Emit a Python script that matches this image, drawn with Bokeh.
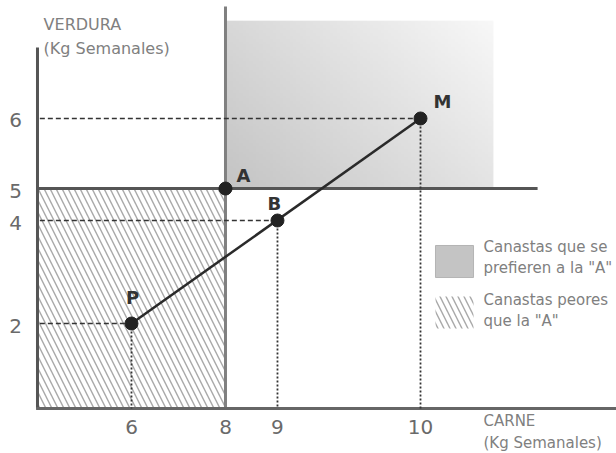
import numpy as np
from bokeh.plotting import figure
from bokeh.models import Range1d
from bokeh.core.properties import value
from bokeh.embed import file_html
from bokeh.resources import INLINE

# ---------------- data ----------------
CARNE_TICKS = [6, 8, 9, 10]
VERDURA_TICKS = [2, 4, 5, 6]
POINT_NAMES = ["P", "A", "B", "M"]
POINT_CARNE = [6, 8, 9, 10]
POINT_VERDURA = [2, 5, 4, 6]
PATH = ["P", "M"]            # straight path P -> B -> M
REF = "A"                    # reference basket
X_TITLE = "CARNE\n(Kg Semanales)"
Y_TITLE = "VERDURA\n(Kg Semanales)"
LEGEND_LABELS = ['Canastas que se\nprefieren a la "A"', 'Canastas peores\nque la "A"']

# ---------------- layout (schematic, not to scale) ----------------
X_SLOTS = [6.0, 8.0, 9.106, 12.149]
Y_SLOTS = [2.0, 4.0, 4.621, 5.981]
AXIS_X, AXIS_Y = 4.0, 0.35
X_AXIS_END, Y_AXIS_END = 16.4, 7.36
GRAY_RIGHT, GRAY_TOP = 13.70, 7.88
HLINE_END = 14.64
VLINE_TOP = 8.155
LABEL_DX = {"P": 1, "A": 18, "B": -3, "M": 22}
LABEL_DY = {"P": -26, "A": -13, "B": -17, "M": -17}

FONT = value("DejaVu Sans")


def sx(v):
    return np.interp(v, CARNE_TICKS, X_SLOTS)


def sy(v):
    return np.interp(v, VERDURA_TICKS, Y_SLOTS)


pts = {n: (sx(c), sy(v)) for n, c, v in zip(POINT_NAMES, POINT_CARNE, POINT_VERDURA)}
ax, ay = pts[REF]

p = figure(width=616, height=453, x_range=Range1d(3.213, 16.319), y_range=Range1d(-0.524, 8.272),
           x_axis_type=None, y_axis_type=None, toolbar_location=None, output_backend="svg",
           min_border=0, outline_line_color=None, background_fill_color="white",
           border_fill_color="white")
p.grid.visible = False

# preferred region (gradient)
nx, ny = 80, 60
U, V = np.meshgrid(np.linspace(0, 1, nx), np.linspace(0, 1, ny))
g = (196 + 20 * V + 32 * U).astype(np.uint8)
img = np.empty((ny, nx), dtype=np.uint32)
view = img.view(dtype=np.uint8).reshape((ny, nx, 4))
view[..., 0] = g
view[..., 1] = g
view[..., 2] = g
view[..., 3] = 255
p.image_rgba(image=[img], x=ax, y=ay, dw=GRAY_RIGHT - ax, dh=GRAY_TOP - ay)

# worse region (hatched)
p.quad(left=[AXIS_X], right=[ax], bottom=[AXIS_Y], top=[ay], fill_color="white",
       hatch_pattern="\\", hatch_color="#a8a8a8", hatch_scale=12, hatch_weight=1.4, line_color=None)

# lines through A
p.segment(x0=[ax], y0=[AXIS_Y], x1=[ax], y1=[VLINE_TOP], line_color="#808080", line_width=3)
p.segment(x0=[AXIS_X], y0=[ay], x1=[HLINE_END], y1=[ay], line_color="#555555", line_width=3)

# axes
p.segment(x0=[AXIS_X], y0=[AXIS_Y], x1=[AXIS_X], y1=[Y_AXIS_END], line_color="#555555", line_width=3)
p.segment(x0=[AXIS_X - 0.03], y0=[AXIS_Y], x1=[X_AXIS_END], y1=[AXIS_Y], line_color="#666666", line_width=3)

# guide lines for P, B, M
for n in ["P", "B", "M"]:
    x, y = pts[n]
    p.segment(x0=[AXIS_X + 0.05], y0=[y], x1=[x], y1=[y], line_color="#333333", line_width=1.6,
              line_dash="5 3")
    p.segment(x0=[x], y0=[y], x1=[x], y1=[AXIS_Y], line_color="#333333", line_width=1.8,
              line_dash="2 2")

# path
p.line(x=[pts[n][0] for n in PATH], y=[pts[n][1] for n in PATH], line_color="#2a2a2a", line_width=2.5)

# points
p.scatter(x=[pts[n][0] for n in POINT_NAMES], y=[pts[n][1] for n in POINT_NAMES], size=13,
          fill_color="#222222", line_color="#222222")
for n in POINT_NAMES:
    x, y = pts[n]
    p.text(x=[x], y=[y], text=[n], x_offset=LABEL_DX[n], y_offset=LABEL_DY[n], text_align="center",
           text_baseline="middle", text_font=FONT, text_font_style="bold", text_font_size="18px",
           text_color="#333333")

# tick labels
p.text(x=list(sx(CARNE_TICKS)), y=[AXIS_Y] * len(CARNE_TICKS), text=[str(t) for t in CARNE_TICKS],
       y_offset=19, text_align="center", text_baseline="middle", text_font=FONT,
       text_font_size="20px", text_color="#6a6a6a")
p.text(x=[AXIS_X] * len(VERDURA_TICKS), y=list(sy(VERDURA_TICKS)), text=[str(t) for t in VERDURA_TICKS],
       x_offset=-22, y_offset=2, text_align="center", text_baseline="middle", text_font=FONT,
       text_font_size="20px", text_color="#6a6a6a")

# axis titles
p.text(x=[AXIS_X + 0.13], y=[7.573], text=[Y_TITLE], text_align="left", text_baseline="middle",
       text_font=FONT, text_font_size="16px", text_color="#808080", text_line_height=1.25)
p.text(x=[13.489], y=[-0.107], text=[X_TITLE], text_align="left", text_baseline="middle",
       text_font=FONT, text_font_size="15px", text_color="#808080", text_line_height=1.2)

# legend
p.quad(left=[12.468], right=[13.277], bottom=[2.893], top=[3.515], fill_color="#c4c4c4",
       line_color="#b4b4b4", line_width=1)
p.quad(left=[12.468], right=[13.277], bottom=[1.903], top=[2.524], fill_color="white",
       hatch_pattern="\\", hatch_color="#a8a8a8", hatch_scale=12, hatch_weight=1.4, line_color=None)
p.text(x=[13.489, 13.489], y=[3.282, 2.252], text=LEGEND_LABELS, text_align="left",
       text_baseline="middle", text_font=FONT, text_font_size="15px", text_color="#808080",
       text_line_height=1.2)

open("out.html", "w").write(file_html(p, INLINE))
